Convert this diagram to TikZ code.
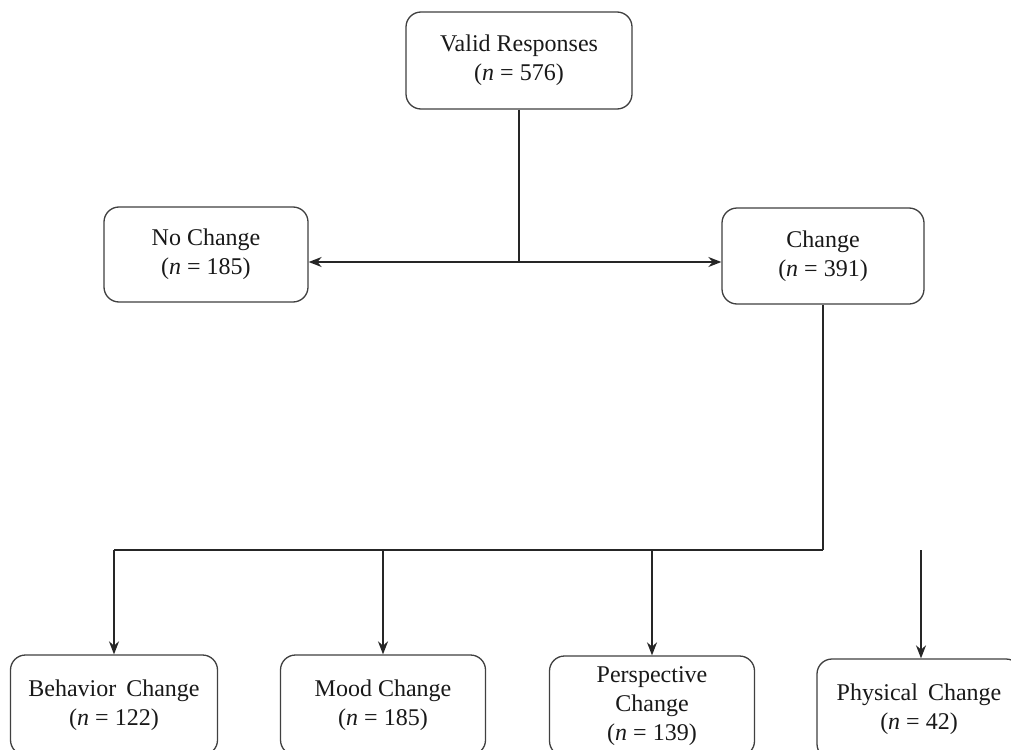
\documentclass[tikz,border=0pt]{standalone}
\usepackage{fontspec}
\setmainfont{Liberation Serif}
\usetikzlibrary{arrows.meta,positioning}
\begin{document}
\begin{tikzpicture}[x=1pt,y=-1pt,
  box/.style={draw=black!75, line width=1.3pt, rounded corners=15pt, fill=white,
    align=center, inner sep=0pt, font=\fontsize{24}{29}\selectfont, text=black!90},
  conn/.style={draw=black!85, line width=1.6pt},
  arr/.style={conn, -{Stealth[length=13pt,width=10pt]}},
  darr/.style={conn, {Stealth[length=13pt,width=10pt]}-{Stealth[length=13pt,width=10pt]}}]
\clip (0,0) rectangle (1011,749);
\fill[white] (0,0) rectangle (1011,749);

\node[box, minimum width=226pt, minimum height=97pt] (valid) at (519,60.5) {Valid Responses\\(\textit{n} = 576)};
\node[box, minimum width=204pt, minimum height=95pt] (nochange) at (206,254.5) {No Change\\(\textit{n} = 185)};
\node[box, minimum width=202pt, minimum height=96pt] (change) at (823,256) {Change\\(\textit{n} = 391)};

\node[box, minimum width=207pt, minimum height=100pt] (behavior) at (114,705) {Behavior\, Change\\(\textit{n} = 122)};
\node[box, minimum width=205pt, minimum height=100pt] (mood) at (383,705) {Mood Change\\(\textit{n} = 185)};
\node[box, minimum width=205pt, minimum height=100pt] (persp) at (652,706) {Perspective\\Change\\(\textit{n} = 139)};
\node[box, minimum width=204pt, minimum height=100pt] (phys) at (919,709) {Physical\, Change\\(\textit{n} = 42)};

\coordinate (j1) at (519,262);
\coordinate (j2) at (823,550);
\coordinate (pj) at (921,550);

\draw[conn] (valid.south) -- (j1);
\draw[darr] (nochange.east |- j1) -- (change.west |- j1);
\draw[conn] (change.south) -- (j2);
\draw[conn] (j2) -- (behavior.north |- j2);
\draw[arr] (behavior.north |- j2) -- (behavior.north);
\draw[arr] (mood.north |- j2) -- (mood.north);
\draw[arr] (persp.north |- j2) -- (persp.north);
\draw[arr] (pj) -- (pj |- phys.north);
\end{tikzpicture}
\end{document}
